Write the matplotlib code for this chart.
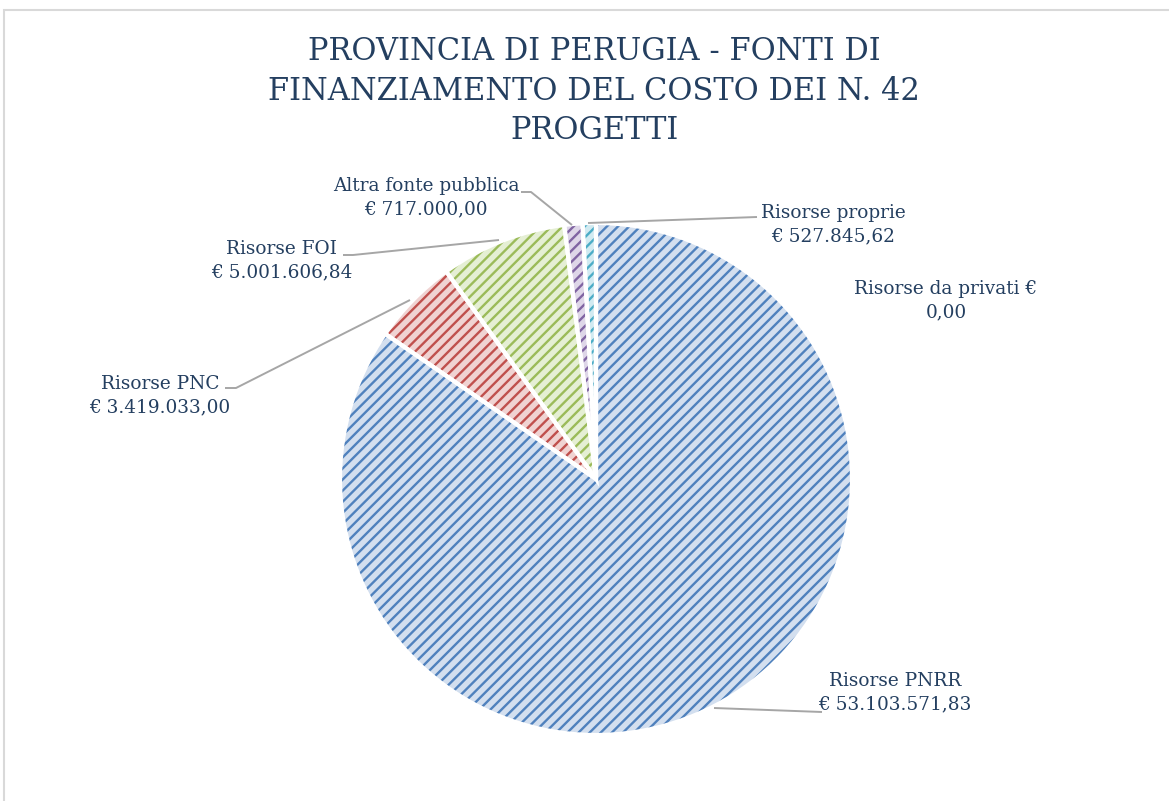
import matplotlib
matplotlib.use("Agg")
import matplotlib.pyplot as plt
from matplotlib.patches import Rectangle

# data (euro)
categories = ["Risorse PNRR", "Risorse PNC", "Risorse FOI", "Altra fonte pubblica",
              "Risorse proprie", "Risorse da privati"]
values = [53103571.83, 3419033.00, 5001606.84, 717000.00, 527845.62, 0.00]
value_labels = ["€ 53.103.571,83", "€ 3.419.033,00", "€ 5.001.606,84", "€ 717.000,00",
                "€ 527.845,62", "0,00"]
title = "PROVINCIA DI PERUGIA - FONTI DI\nFINANZIAMENTO DEL COSTO DEI N. 42\nPROGETTI"

dark_colors = ["#4F81BD", "#C0504D", "#9BBB59", "#8064A2", "#4BACC6", "#F79646"]
light_colors = ["#D3DFEF", "#F0D3D2", "#E5EFD4", "#DED6E8", "#D1EAF1", "#FDE5D2"]
text_color = "#243F60"
line_color = "#A6A6A6"

W, H = 1169, 801
CX, CY, R = 596, 479, 256

plt.rcParams['hatch.linewidth'] = 1.7
plt.rcParams['font.family'] = ['DejaVu Serif']

fig = plt.figure(figsize=(W / 100, H / 100), dpi=100)
ax = fig.add_axes([0, 0, 1, 1])


def px(x, y):
    # pixel position in the picture -> data units of the pie axes
    return (x - CX) / R, (CY - y) / R


wedges, _ = ax.pie(values, startangle=90, counterclock=False, radius=1.0,
                   colors=light_colors, wedgeprops=dict(linewidth=0))
for w, c in zip(wedges, dark_colors):
    w.set_hatch('///')
    w.set_edgecolor(c)

ax.pie(values, startangle=90, counterclock=False, radius=1.0,
       colors=['none'] * len(values),
       wedgeprops=dict(linewidth=3, edgecolor='white'))

ax.set_xlim(-CX / R, (W - CX) / R)
ax.set_ylim((CY - H) / R, CY / R)
ax.set_aspect('equal')
ax.axis('off')

# label text positions (pixel centre of the two-line label) and leader line knee
label_pos = [(895, 693), (160, 396), (282, 261), (426, 198), (833, 225), (946, 301)]
leader = [[(822, 712), (714, 708)],
          [(225, 388), (236, 388), (410, 300)],
          [(343, 255), (353, 255), (499, 240)],
          [(521, 192), (531, 192), (572, 225)],
          [(757, 217), (588, 223)],
          None]

for name, vl, pos, ln in zip(categories, value_labels, label_pos, leader):
    if name == "Risorse da privati":
        txt = name + " €\n" + vl
    else:
        txt = name + "\n" + vl
    x, y = px(*pos)
    ax.text(x, y, txt, ha='center', va='center', fontsize=13.3, color=text_color,
            linespacing=1.4)
    if ln is not None:
        xs, ys = zip(*[px(a, b) for a, b in ln])
        ax.plot(xs, ys, color=line_color, linewidth=1.4, solid_capstyle='butt')

tx, ty = px(594, 91)
ax.text(tx, ty, title, ha='center', va='center', fontsize=22, color=text_color,
        linespacing=1.35)

# chart area border
fig.patches.append(Rectangle((4 / W, -0.1), 1.1, (H - 10) / H + 0.1,
                             transform=fig.transFigure, fill=False,
                             edgecolor='#D9D9D9', linewidth=1.5))

fig.savefig("out.png", dpi=100)
